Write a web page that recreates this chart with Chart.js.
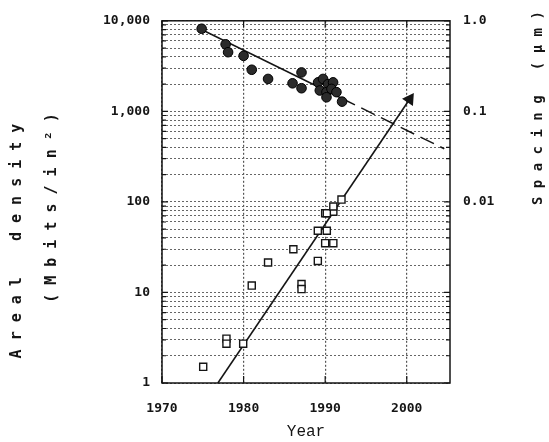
<!DOCTYPE html>
<html>
<head>
<meta charset="utf-8">
<script src="https://cdn.jsdelivr.net/npm/chart.js@4.4.1/dist/chart.umd.min.js"></script>
<style>
  html, body { margin: 0; padding: 0; background: #fff; }
</style>
</head>
<body>
<canvas id="chart" width="549" height="442"></canvas>
<script>
let yearTicks = [1970, 1980, 1990, 2000],
    densityGrid = [1, 2, 3, 4, 5, 6, 7, 8, 9,
                   10, 20, 30, 40, 50, 60, 70, 80, 90,
                   100, 200, 300, 400, 500, 600, 700, 800, 900,
                   1000, 2000, 3000, 4000, 5000, 6000, 7000, 8000, 9000,
                   10000],
    densityMajor = [1, 10, 100, 1000, 10000],
    densityLabels = ["1", "10", "100", "1,000", "10,000"],
    spacingTicks = [1, 0.1, 0.01],
    spacingLabels = ["1.0", "0.1", "0.01"],
    // areal density, open squares (Mbits/in2)
    squareYears = [1975.05, 1977.9, 1977.9, 1979.95, 1981.0, 1983.0, 1986.1, 1987.1, 1987.1,
                   1989.1, 1989.1, 1990.2, 1990.0, 1991.0, 1990.0, 1991.0, 1990.2, 1991.0, 1992.0],
    squareDensity = [1.51, 3.09, 2.72, 2.72, 11.9, 21.4, 30, 12.4, 10.9,
                     22.3, 48, 48, 35, 35, 75, 78, 75, 89, 106],
    // bit spacing, filled circles (um)
    circleYears = [1974.86, 1977.8, 1978.1, 1980.0, 1981.0, 1983.0, 1987.1, 1986.0, 1987.1,
                   1989.13, 1989.74, 1990.35, 1990.97, 1989.34, 1990.16, 1990.77, 1991.38, 1990.16,
                   1992.07],
    circleSpacing = [0.817, 0.55, 0.45, 0.41, 0.288, 0.228, 0.269, 0.204, 0.18,
                     0.209, 0.228, 0.200, 0.209, 0.170, 0.163, 0.177, 0.163, 0.143,
                     0.128],
    densityFitYears = [1976.85, 2000.35],
    densityFitValues = [1, 1360],
    spacingFitYears = [1974.9, 1992],
    spacingFitValues = [0.796, 0.1396],
    spacingExtYears = [1992, 2004.6],
    spacingExtValues = [0.1396, 0.0386],
    ink = "#151515",
    tickFont = { family: "DejaVu Sans Mono", size: 13, weight: "bold" },
    pts = (xs, ys) => xs.map((x, i) => ({ x: x, y: ys[i] }))

// border, inner tick marks and the rotated side titles
const frame = {
  id: "frame",
  afterDraw(chart) {
    let ctx = chart.ctx, a = chart.chartArea, y = chart.scales.y, x = chart.scales.x
    ctx.save()
    ctx.strokeStyle = ink
    ctx.lineWidth = 1.5
    ctx.strokeRect(a.left, a.top, a.right - a.left, a.bottom - a.top)
    ctx.lineWidth = 1.2
    ctx.beginPath()
    for (let v of densityGrid) {
      let py = y.getPixelForValue(v), len = densityMajor.includes(v) ? 6 : 4
      ctx.moveTo(a.left, py); ctx.lineTo(a.left + len, py)
      ctx.moveTo(a.right, py); ctx.lineTo(a.right - len, py)
    }
    for (let t of yearTicks) {
      let px = x.getPixelForValue(t)
      ctx.moveTo(px, a.bottom); ctx.lineTo(px, a.bottom - 7)
      ctx.moveTo(px, a.top); ctx.lineTo(px, a.top + 7)
    }
    ctx.stroke()

    ctx.fillStyle = ink
    ctx.textBaseline = "middle"
    let rot = (txt, px, py) => {
      ctx.save(); ctx.translate(px, py); ctx.rotate(-Math.PI / 2)
      ctx.fillText(txt, 0, 0); ctx.restore()
    }
    ctx.font = 'bold 15px "DejaVu Sans Mono"'
    ctx.textAlign = "center"
    rot("A r e a l    d e n s i t y", 17, 241)
    rot("( M b i t s / i n \u00b2 )", 52, 208)
    ctx.font = 'bold 14px "DejaVu Sans Mono"'
    ctx.textAlign = "left"
    rot("S p a c i n g   ( \u03bc m )", 538, 205)
    ctx.restore()
  }
}

let myChart = new Chart(document.getElementById("chart"), {
  type: "scatter",
  plugins: [frame],
  data: {
    datasets: [
      {
        data: pts(circleYears, circleSpacing),
        yAxisID: "y2",
        pointStyle: "circle",
        pointRadius: 4.8,
        backgroundColor: "#2b2b2b",
        borderColor: "#000",
        borderWidth: 1,
        order: 0
      },
      {
        data: pts(squareYears, squareDensity),
        yAxisID: "y",
        pointStyle: "rect",
        pointRadius: 5,
        backgroundColor: "#fff",
        borderColor: ink,
        borderWidth: 1.4,
        order: 0
      },
      {
        data: pts(spacingFitYears, spacingFitValues),
        yAxisID: "y2",
        showLine: true,
        pointRadius: 0,
        borderColor: ink,
        borderWidth: 1.5,
        order: 1
      },
      {
        data: pts(spacingExtYears, spacingExtValues),
        yAxisID: "y2",
        showLine: true,
        pointRadius: 0,
        borderColor: ink,
        borderWidth: 1.5,
        borderDash: [15, 7],
        order: 1
      },
      {
        data: pts(densityFitYears, densityFitValues),
        yAxisID: "y",
        showLine: true,
        pointStyle: "triangle",
        rotation: 34,
        pointRadius: [0, 6],
        pointBackgroundColor: ink,
        pointBorderColor: ink,
        borderColor: ink,
        borderWidth: 1.6,
        order: 1
      }
    ]
  },
  options: {
    responsive: false,
    animation: false,
    layout: { padding: { top: 18, left: 0, right: 0, bottom: 0 } },
    plugins: { legend: { display: false }, tooltip: { enabled: false } },
    scales: {
      x: {
        type: "linear",
        min: 1970,
        max: 2005.3,
        afterBuildTicks: s => { s.ticks = yearTicks.map(v => ({ value: v })) },
        afterFit: s => { s.height = 59 },
        grid: { color: "#555", lineWidth: 1.2, drawTicks: false },
        border: { display: false, dash: [2, 2] },
        ticks: {
          autoSkip: false, padding: 18, color: ink, font: tickFont, maxRotation: 0,
          callback: v => String(v)
        },
        title: {
          display: true, text: "Year", color: ink,
          font: { family: "Liberation Mono", size: 16 },
          padding: { top: 0, bottom: 1 }
        }
      },
      y: {
        type: "logarithmic",
        position: "left",
        min: 1,
        max: 10000,
        afterBuildTicks: s => { s.ticks = densityGrid.map(v => ({ value: v })) },
        afterFit: s => { s.width = 162 },
        grid: { color: "#666", lineWidth: 1, drawTicks: false },
        border: { display: false, dash: [2, 2] },
        ticks: {
          autoSkip: false, padding: 12, color: ink, font: tickFont,
          callback: v => { let i = densityMajor.indexOf(v); return i < 0 ? "" : densityLabels[i] }
        }
      },
      y2: {
        type: "logarithmic",
        position: "right",
        min: 0.0001,
        max: 1,
        afterBuildTicks: s => { s.ticks = spacingTicks.map(v => ({ value: v })) },
        afterFit: s => { s.width = 99 },
        grid: { display: false, drawTicks: false },
        border: { display: false },
        ticks: {
          autoSkip: false, padding: 13, color: ink, font: tickFont,
          callback: v => { let i = spacingTicks.indexOf(v); return i < 0 ? "" : spacingLabels[i] }
        }
      }
    }
  }
})
</script>
</body>
</html>
